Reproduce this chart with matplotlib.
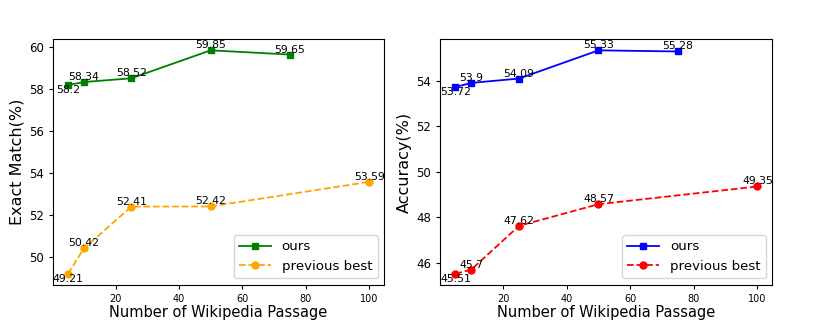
import matplotlib
matplotlib.use("Agg")
from matplotlib import pyplot as plt

# Passages used for each run
x_ours = [5, 10, 25, 50, 75]
x_prev = [5, 10, 25, 50, 100]

# Left panel: exact match
em_ours = [58.2, 58.34, 58.52, 59.85, 59.65]
em_prev = [49.21, 50.42, 52.41, 52.42, 53.59]

# Right panel: accuracy
acc_ours = [53.72, 53.9, 54.09, 55.33, 55.28]
acc_prev = [45.51, 45.7, 47.62, 48.57, 49.35]


def annotate(ax, xs, ys):
    for i, (a, b) in enumerate(zip(xs, ys)):
        # first point label goes below the marker
        va = 'top' if i == 0 else 'bottom'
        ax.text(a, b, str(b), ha='center', va=va, fontsize=7.8)


def panel(ax, ys_ours, ys_prev, c_ours, c_prev, ylabel):
    ax.plot(x_ours, ys_ours, 's-', color=c_ours, label='ours', lw=1.3, ms=5)
    ax.plot(x_prev, ys_prev, 'o--', color=c_prev, label='previous best', lw=1.3, ms=5)
    annotate(ax, x_ours, ys_ours)
    annotate(ax, x_prev, ys_prev)
    ax.set_xlabel('Number of Wikipedia Passage', fontsize=10.5, labelpad=1)
    ax.set_ylabel(ylabel, fontsize=11.5, labelpad=3)
    ax.tick_params(axis='y', labelsize=8.5, length=3)
    ax.tick_params(axis='x', labelsize=7, length=3)
    ax.legend(loc='lower right', fontsize=9.6, handlelength=2.4)


fig = plt.figure(figsize=(8.14, 3.21), dpi=100)
ax1 = fig.add_axes([0.065, 0.112, 0.407, 0.766])
ax2 = fig.add_axes([0.541, 0.112, 0.408, 0.766])

panel(ax1, em_ours, em_prev, 'green', 'orange', 'Exact Match(%)')
panel(ax2, acc_ours, acc_prev, 'blue', 'red', 'Accuracy(%)')

fig.savefig('out.png', dpi=100)
